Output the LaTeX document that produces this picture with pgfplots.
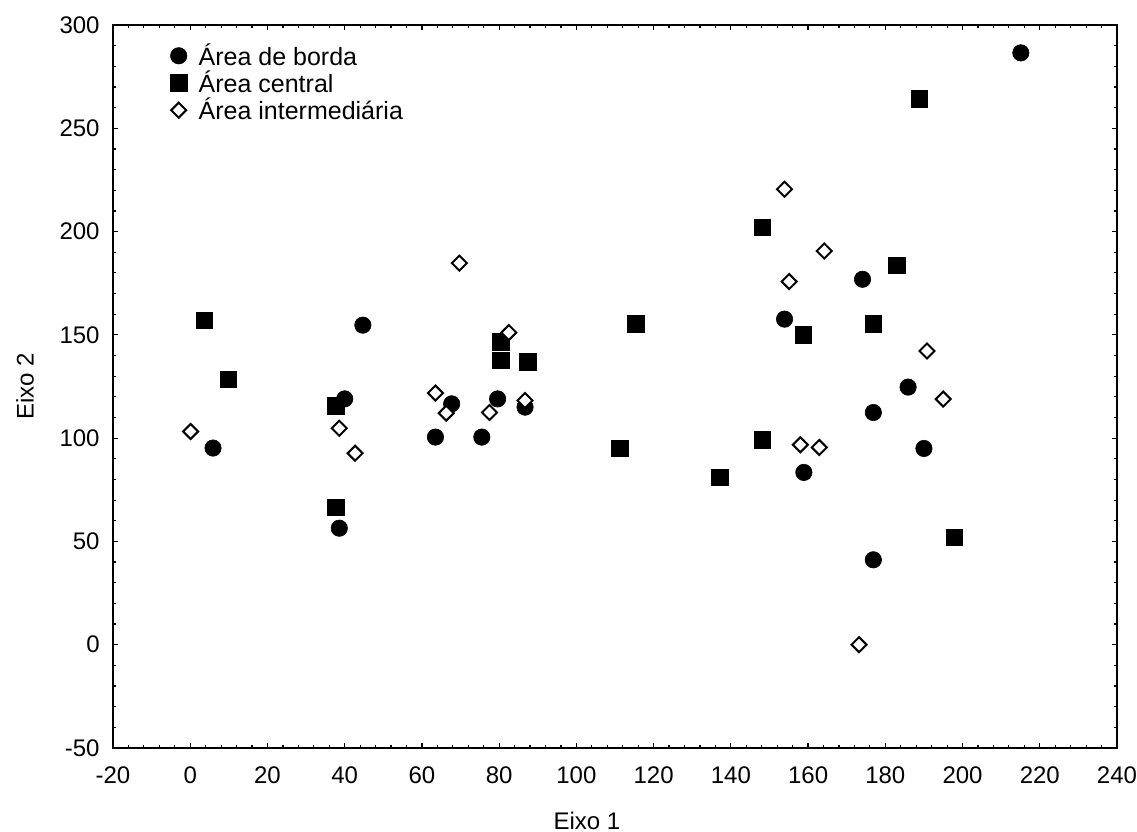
\documentclass[border=0pt]{standalone}
\usepackage{pgfplots}
\pgfplotsset{compat=1.18}
\usepackage{fontspec}
\setmainfont{Liberation Sans}

\begin{document}
\begin{tikzpicture}[font=\fontsize{12}{14}\selectfont]
\begin{axis}[
  scale only axis,
  width=502pt, height=361.5pt,
  xmin=-20, xmax=240, ymin=-50, ymax=300,
  xtick distance=20, ytick distance=50,
  minor x tick num=4, minor y tick num=4,
  tick align=inside,
  major tick length=2.6pt, minor tick length=1.6pt,
  axis line style={line width=1pt},
  every tick/.style={black, line width=0.6pt},
  /pgf/number format/assume math mode=true,
  ticklabel style={font=\fontsize{12}{14}\selectfont},
  xticklabel style={anchor=north, inner sep=0pt, yshift=-9pt},
  yticklabel style={anchor=east, inner sep=0pt, xshift=-6.5pt},
  xlabel={Eixo 1},
  xlabel style={at={(axis description cs:0.472,0)}, anchor=north, inner sep=0pt, yshift=-32pt},
  ylabel={Eixo 2},
  ylabel style={at={(axis description cs:-0.0876,0.5)}, anchor=center, inner sep=0pt},
  legend style={draw=none, fill=none, at={(axis description cs:0,1)}, anchor=north west,
    xshift=27.85pt, yshift=-8.6pt, inner sep=0pt, outer sep=0pt, row sep=0pt,
    column sep=5pt, font=\fontsize{12.5}{14}\selectfont, nodes={inner sep=0pt}},
  legend cell align=left,
  legend image code/.code={\path[draw=none, fill=none] (-5pt,-6.8pt) rectangle (5pt,6.8pt);
    \draw[#1] plot coordinates {(0pt,0pt)};},
]
\coordinate (sw) at (rel axis cs:0,0);
\coordinate (ne) at (rel axis cs:1,1);

% Área de borda
\addplot[only marks, mark=*, mark size=4.1pt,
  mark options={draw=black, fill=black, line width=0.3pt}] coordinates {
  (5.9,95.2) (38.6,56.4) (40.0,119.0) (44.7,154.7) (63.5,100.5)
  (67.7,116.6) (75.5,100.5) (79.6,119.0) (86.7,115.0) (153.9,157.6)
  (174.1,176.9) (185.9,124.7) (176.9,112.4) (190.0,95.0) (158.9,83.4)
  (176.9,41.1) (215.1,286.5)
};
\addlegendentry{Área de borda}

% Área central
\addplot[only marks, mark=square*, mark size=4.1pt,
  mark options={draw=black, fill=black, line width=0.3pt}] coordinates {
  (3.7,156.9) (9.9,128.5) (37.7,115.6) (37.7,66.6) (80.4,146.7)
  (80.4,137.7) (87.4,136.9) (111.2,95.2) (115.4,155.3) (137.1,80.9)
  (148.2,202.1) (183.0,183.7) (158.8,150.0) (176.9,155.3) (148.2,99.2)
  (188.8,264.3) (197.8,51.9)
};
\addlegendentry{Área central}

% Área intermediária
\addplot[only marks, mark=square*, mark size=2.65pt,
  mark options={rotate=45, draw=black, fill=white, line width=1pt}] coordinates {
  (0.1,103.2) (38.6,104.8) (42.7,92.7) (69.7,184.7) (63.5,121.8)
  (66.3,112.1) (77.5,112.4) (82.5,151.1) (86.7,118.2) (153.9,220.5)
  (164.2,190.6) (155.1,175.8) (190.8,142.2) (195.0,118.9) (158.0,96.8)
  (162.9,95.5) (173.2,0.0)
};
\addlegendentry{Área intermediária}
\end{axis}
\pgfresetboundingbox
\useasboundingbox ([shift={(-56.5pt,-42pt)}]sw) rectangle ([shift={(10pt,12.5pt)}]ne);
\end{tikzpicture}
\end{document}
